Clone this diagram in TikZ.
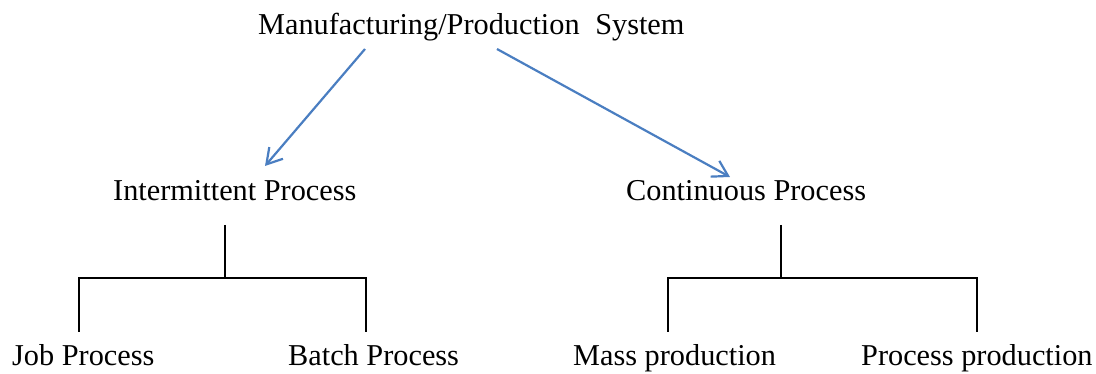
\documentclass[tikz,border=0pt]{standalone}
\usepackage{fontspec}
\setmainfont{Liberation Serif}
\usetikzlibrary{arrows.meta}
\definecolor{arrowblue}{RGB}{74,126,193}
\tikzset{
  lbl/.style={inner sep=0pt, anchor=base west, font=\fontsize{30.3}{36}\selectfont},
  treeline/.style={draw=black, line width=1.8pt},
  blue arrow/.style={draw=arrowblue, line width=2.2pt, -{Straight Barb[length=15pt,width=18pt,line width=2.2pt]}}
}
\begin{document}
\begin{tikzpicture}[x=1pt,y=-1pt]
\useasboundingbox (0,0) rectangle (1096,374);
% labels
\node[lbl] (title) at (258,35) {Manufacturing/Production\hspace{8pt} System};
\node[lbl] (inter) at (113,200.5) {Intermittent Process};
\node[lbl] (cont) at (626,201) {Continuous Process};
\node[lbl] (job) at (12,366) {Job Process};
\node[lbl] (batch) at (288,366) {Batch Process};
\node[lbl] (mass) at (573,366) {Mass production};
\node[lbl] (proc) at (861,366) {Process production};
% arrow end points
\coordinate (a1s) at (365,49);
\coordinate (a1e) at (265,166);
\coordinate (a2s) at (497,49);
\coordinate (a2e) at (730,177);
\draw[blue arrow] (a1s) -- (a1e);
\draw[blue arrow] (a2s) -- (a2e);
% left tree
\coordinate (lstem) at (225,225);
\coordinate (ljoin) at (225,278);
\coordinate (ljob) at (79,332);
\coordinate (lbatch) at (366,332);
\draw[treeline] (lstem) -- (ljoin);
\draw[treeline] (ljob) |- (ljoin) -| (lbatch);
% right tree
\coordinate (rstem) at (781,225);
\coordinate (rjoin) at (781,278);
\coordinate (rmass) at (668,332);
\coordinate (rproc) at (977,332);
\draw[treeline] (rstem) -- (rjoin);
\draw[treeline] (rmass) |- (rjoin) -| (rproc);
\end{tikzpicture}
\end{document}
